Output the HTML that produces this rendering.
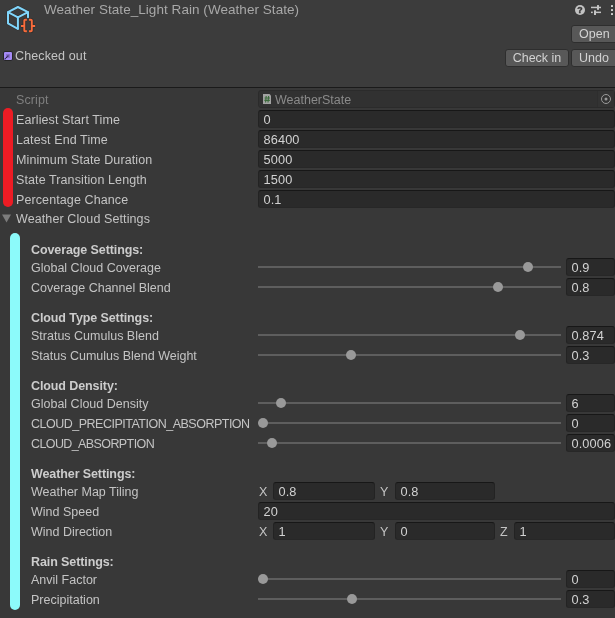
<!DOCTYPE html>
<html><head><meta charset="utf-8">
<style>
*{margin:0;padding:0;box-sizing:border-box}
html,body{width:615px;height:618px;overflow:hidden;background:#383838}
body{position:relative;font-family:"Liberation Sans",sans-serif;color:#c4c4c4}
#root{position:absolute;left:0;top:0;width:615px;height:618px;will-change:transform;background:#383838}
#hdr{position:absolute;left:0;top:0;width:615px;height:87px;background:#3c3c3c}
#hline{position:absolute;left:0;top:87px;width:615px;height:1px;background:#1a1a1a}
.t{position:absolute;white-space:nowrap;font-size:12.5px;line-height:18px;height:18px;margin-top:1px}
.l{left:16px;letter-spacing:0.1px}
.l2{left:31px}
.b{font-weight:bold;color:#cccccc;letter-spacing:-0.1px}
.f{position:absolute;left:258px;width:357px;height:18px;background:#2a2a2a;border:1px solid #232323;border-top-color:#171717;border-bottom-color:#272727;border-radius:3px}
.f span{position:absolute;left:4.5px;top:0px;font-size:12.75px;line-height:18px;color:#d2d2d2;white-space:nowrap;letter-spacing:0.12px}
.tr{position:absolute;left:258px;width:303px;height:2px;background:#5e5e5e}
.th{position:absolute;width:10px;height:10px;border-radius:50%;background:#999}
.v{position:absolute;left:566px;width:49px;height:18px;background:#2a2a2a;border:1px solid #232323;border-top-color:#171717;border-bottom-color:#272727;border-radius:3px}
.v span{position:absolute;left:4.5px;top:0px;font-size:12.75px;line-height:18px;color:#d2d2d2;white-space:nowrap;letter-spacing:0.12px}
.btn{position:absolute;height:18px;background:#585858;border:1px solid #2e2e2e;border-radius:3px;font-size:12.5px;line-height:17px;color:#d2d2d2;text-align:center}
</style></head><body><div id="root">
<div id="hdr"></div>
<div id="hline"></div>

<!-- header icon -->
<svg style="position:absolute;left:0;top:0" width="40" height="40" viewBox="0 0 40 40">
 <g fill="none" stroke-linejoin="round" stroke-linecap="round">
  <g stroke="#2a2626" stroke-width="3.2" opacity="0.5">
   <path d="M8 12.2 L17.9 7 L28 12.2 L17.9 17.4 Z M8 12.2 L8 23.4 L17.9 28.8 M17.9 17.4 L17.9 28.8 M28 12.2 L28 17.3"/>
  </g>
  <g stroke="#80d6fc" stroke-width="2">
   <path d="M8 12.2 L17.9 7 L28 12.2 L17.9 17.4 Z"/>
   <path d="M8 12.2 L8 23.4 L17.9 28.8"/>
   <path d="M17.9 17.4 L17.9 28.8"/>
   <path d="M28 12.2 L28 17.3"/>
  </g>
 </g>
 <g fill="none" stroke="#262626" stroke-width="3.6" stroke-linejoin="miter" opacity="0.6">
  <path d="M26.9 19.8 L25 19.8 Q24.3 19.8 24.3 20.5 L24.3 26 L21 26 L24.3 26 L24.3 30.6 Q24.3 31.3 25 31.3 L26.9 31.3"/>
  <path d="M29 19.8 L30.9 19.8 Q31.8 19.8 31.8 20.5 L31.8 26 L35.1 26 L31.8 26 L31.8 30.6 Q31.8 31.3 30.9 31.3 L29 31.3"/>
 </g>
 <g fill="none" stroke="#f96b3b" stroke-width="1.9" stroke-linejoin="miter">
  <path d="M26.9 19.8 L25 19.8 Q24.3 19.8 24.3 20.5 L24.3 26 L21 26 L24.3 26 L24.3 30.6 Q24.3 31.3 25 31.3 L26.9 31.3"/>
  <path d="M29 19.8 L30.9 19.8 Q31.8 19.8 31.8 20.5 L31.8 26 L35.1 26 L31.8 26 L31.8 30.6 Q31.8 31.3 30.9 31.3 L29 31.3"/>
 </g>
</svg>

<div class="t" style="left:44px;top:0px;font-size:13.5px;color:#a8a8a8;letter-spacing:0.05px">Weather State_Light Rain (Weather State)</div>

<!-- top right icons -->
<svg style="position:absolute;left:572px;top:2px" width="43" height="16" viewBox="0 0 43 16">
 <circle cx="8" cy="8" r="5" fill="#c2c2c2"/>
 <text x="8" y="11.4" font-family="Liberation Sans" font-size="8.8" font-weight="bold" fill="#383838" stroke="#383838" stroke-width="0.4" text-anchor="middle">?</text>
 <g fill="#c4c4c4">
  <rect x="19" y="4.7" width="10" height="1.5"/>
  <rect x="25" y="3.1" width="2" height="4.7"/>
  <rect x="19" y="9.6" width="1.8" height="1.5"/>
  <rect x="22" y="8.3" width="2" height="4.7"/>
  <rect x="24" y="9.6" width="5" height="1.5"/>
 </g>
 <g fill="#dadada">
  <rect x="39" y="3" width="2" height="2" rx="0.4"/>
  <rect x="39" y="7" width="2" height="2" rx="0.4"/>
  <rect x="39" y="11" width="2" height="2" rx="0.4"/>
 </g>
</svg>

<div class="btn" style="left:571px;top:25px;width:52px;text-align:left;padding-left:7px">Open</div>
<div class="btn" style="left:505px;top:49px;width:64px">Check in</div>
<div class="btn" style="left:571px;top:49px;width:52px;text-align:left;padding-left:7px">Undo</div>

<!-- checked out -->
<svg style="position:absolute;left:3px;top:51px" width="10" height="10" viewBox="0 0 10 10">
 <rect x="0.5" y="0.5" width="9" height="9" rx="1.5" fill="#a58af5" stroke="#262626" stroke-width="1"/>
 <rect x="3" y="3" width="4" height="4" fill="#8a70d0"/>
 <path d="M1.8 8.2 L5.8 4.2" stroke="#262040" stroke-width="1.2" stroke-dasharray="1.3 0.5"/>
</svg>
<div class="t" style="left:15px;top:46px;color:#c4c4c4;letter-spacing:0.12px">Checked out</div>

<!-- Script row -->
<div class="t l" style="top:90px;color:#7f7f7f">Script</div>
<div style="position:absolute;left:258px;top:90px;width:357px;height:18px;background:#313131;border:1px solid #2b2b2b;border-radius:3px"></div>
<div style="position:absolute;left:597px;top:91px;width:17px;height:16px;background:#333333;border-left:1px solid #2e2e2e"></div>
<svg style="position:absolute;left:262px;top:93px" width="11" height="12" viewBox="0 0 11 12">
 <path d="M1 1 L7.5 1 L9 2.5 L9 11 L1 11 Z" fill="#a2a2a2"/>
 <g stroke="#3b6b3b" stroke-width="1.1">
  <path d="M4.2 3 L3.6 9.5 M6.6 3 L6 9.5 M2.6 5 L8 5 M2.4 7.4 L7.8 7.4"/>
 </g>
</svg>
<div class="t" style="left:275px;top:90px;color:#8a8a8a">WeatherState</div>
<svg style="position:absolute;left:600px;top:93px" width="12" height="12"><circle cx="6" cy="6" r="4.5" fill="none" stroke="#9a9a9a" stroke-width="1"/><circle cx="6" cy="6" r="1.5" fill="#9a9a9a"/></svg>

<!-- red bar -->
<div style="position:absolute;left:3px;top:108px;width:10px;height:99px;background:#ed1c24;border-radius:5px"></div>

<div class="t l" style="top:110px">Earliest Start Time</div>
<div class="f" style="top:110px"><span>0</span></div>
<div class="t l" style="top:130px">Latest End Time</div>
<div class="f" style="top:130px"><span>86400</span></div>
<div class="t l" style="top:150px">Minimum State Duration</div>
<div class="f" style="top:150px"><span>5000</span></div>
<div class="t l" style="top:170px">State Transition Length</div>
<div class="f" style="top:170px"><span>1500</span></div>
<div class="t l" style="top:190px">Percentage Chance</div>
<div class="f" style="top:190px"><span>0.1</span></div>

<!-- foldout -->
<svg style="position:absolute;left:2px;top:214px" width="10" height="9"><path d="M0 0.5 L9 0.5 L4.5 8.5 Z" fill="#7c7c7c"/></svg>
<div class="t l" style="top:209px">Weather Cloud Settings</div>

<!-- cyan bar -->
<div style="position:absolute;left:10px;top:233px;width:10px;height:377px;background:#8cfafa;border-radius:5px"></div>

<div class="t l2 b" style="top:240px">Coverage Settings:</div>
<div class="t l2" style="top:258px">Global Cloud Coverage</div>
<div class="tr" style="top:266px"></div><div class="th" style="left:523px;top:262px"></div>
<div class="v" style="top:258px"><span>0.9</span></div>
<div class="t l2" style="top:278px">Coverage Channel Blend</div>
<div class="tr" style="top:286px"></div><div class="th" style="left:493px;top:282px"></div>
<div class="v" style="top:278px"><span>0.8</span></div>

<div class="t l2 b" style="top:308px">Cloud Type Settings:</div>
<div class="t l2" style="top:326px">Stratus Cumulus Blend</div>
<div class="tr" style="top:334px"></div><div class="th" style="left:515px;top:330px"></div>
<div class="v" style="top:326px"><span>0.874</span></div>
<div class="t l2" style="top:346px">Status Cumulus Blend Weight</div>
<div class="tr" style="top:354px"></div><div class="th" style="left:346px;top:350px"></div>
<div class="v" style="top:346px"><span>0.3</span></div>

<div class="t l2 b" style="top:376px">Cloud Density:</div>
<div class="t l2" style="top:394px">Global Cloud Density</div>
<div class="tr" style="top:402px"></div><div class="th" style="left:276px;top:398px"></div>
<div class="v" style="top:394px"><span>6</span></div>
<div class="t l2" style="top:414px;letter-spacing:-0.5px">CLOUD_PRECIPITATION_ABSORPTION</div>
<div class="tr" style="top:422px"></div><div class="th" style="left:258px;top:418px"></div>
<div class="v" style="top:414px"><span>0</span></div>
<div class="t l2" style="top:434px;letter-spacing:-0.6px">CLOUD_ABSORPTION</div>
<div class="tr" style="top:442px"></div><div class="th" style="left:267px;top:438px"></div>
<div class="v" style="top:434px"><span>0.0006</span></div>

<div class="t l2 b" style="top:464px">Weather Settings:</div>
<div class="t l2" style="top:482px">Weather Map Tiling</div>
<div class="t" style="left:259px;top:482px">X</div>
<div class="f" style="top:482px;left:273px;width:102px"><span>0.8</span></div>
<div class="t" style="left:380px;top:482px">Y</div>
<div class="f" style="top:482px;left:395px;width:100px"><span>0.8</span></div>
<div class="t l2" style="top:502px">Wind Speed</div>
<div class="f" style="top:502px"><span>20</span></div>
<div class="t l2" style="top:522px">Wind Direction</div>
<div class="t" style="left:259px;top:522px">X</div>
<div class="f" style="top:522px;left:273px;width:102px"><span>1</span></div>
<div class="t" style="left:380px;top:522px">Y</div>
<div class="f" style="top:522px;left:395px;width:100px"><span>0</span></div>
<div class="t" style="left:500px;top:522px">Z</div>
<div class="f" style="top:522px;left:514px;width:101px"><span>1</span></div>

<div class="t l2 b" style="top:552px">Rain Settings:</div>
<div class="t l2" style="top:570px">Anvil Factor</div>
<div class="tr" style="top:578px"></div><div class="th" style="left:258px;top:574px"></div>
<div class="v" style="top:570px"><span>0</span></div>
<div class="t l2" style="top:590px">Precipitation</div>
<div class="tr" style="top:598px"></div><div class="th" style="left:347px;top:594px"></div>
<div class="v" style="top:590px"><span>0.3</span></div>
</div></body></html>
